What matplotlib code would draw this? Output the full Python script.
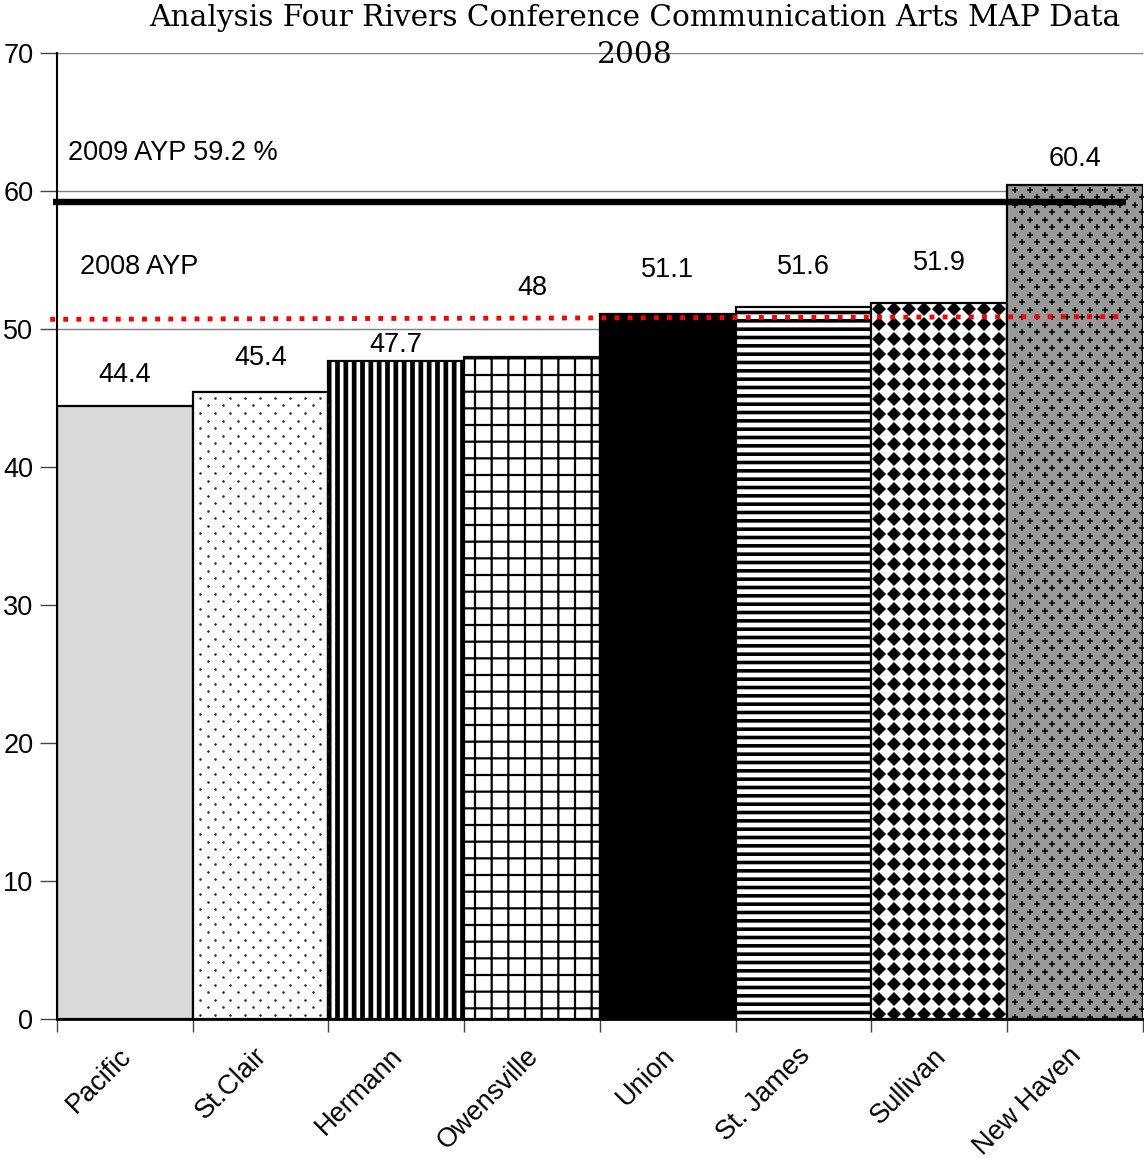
import numpy as np
import matplotlib
matplotlib.use('Agg')
import matplotlib.pyplot as plt

schools = ['Pacific', 'St.Clair', 'Hermann', 'Owensville', 'Union', 'St. James', 'Sullivan', 'New Haven']
scores = [44.4, 45.4, 47.7, 48.0, 51.1, 51.6, 51.9, 60.4]
score_text = ['44.4', '45.4', '47.7', '48', '51.1', '51.6', '51.9', '60.4']
label_lift = [2.3, 2.5, 1.15, 5.0, 3.2, 2.9, 2.9, 1.9]

ayp_2009 = 59.2
ayp_2008 = (50.7, 50.9)

# fill, hatch, hatch line width per bar
styles = [
    ('#d9d9d9', None, 1.0),
    ('white', None, 1.0),
    ('white', '||', 3.4),
    ('white', '+', 1.6),
    ('black', None, 1.0),
    ('white', '--', 2.6),
    ('white', None, 1.0),
    ('#999999', None, 1.0),
]

plt.rcParams['font.family'] = ['Liberation Sans', 'DejaVu Sans']
FS = 19.5

fig = plt.figure(figsize=(11.44, 11.59), dpi=100)
ax = fig.add_axes([0.0498, 0.1208, 0.9492, 0.8335])

x = np.arange(len(schools))
bars = []
for xi, val, (fc, hatch, hlw) in zip(x, scores, styles):
    with plt.rc_context({'hatch.linewidth': hlw}):
        b = ax.bar(xi, val, width=1.0, color=fc, edgecolor='black',
                   linewidth=1.6, hatch=hatch, zorder=2)[0]
    if hasattr(b, 'set_hatch_linewidth'):
        b.set_hatch_linewidth(hlw)
    bars.append(b)

dx = 0.1106  # about 15 px across a bar


def staggered(bar, row_step, first):
    x0, w, top = bar.get_x(), bar.get_width(), bar.get_height()
    px, py = [], []
    for i, ry in enumerate(np.arange(top - first, 0, -row_step)):
        off = 0.0 if i % 2 == 0 else dx / 2
        xs = np.arange(x0 + dx / 2 + off, x0 + w, dx)
        px.extend(xs)
        py.extend([ry] * len(xs))
    return px, py


# fine dots for St.Clair
px, py = staggered(bars[1], 0.545, 0.4)
pts, = ax.plot(px, py, 'o', color='#222222', markersize=1.8,
               markeredgewidth=0, zorder=2.5)
pts.set_clip_path(bars[1])

# diamond texture for Sullivan
b = bars[6]
x0, w, top = b.get_x(), b.get_width(), b.get_height()
gx = np.arange(x0 + dx / 2, x0 + w, dx)
gy = np.arange(top - 0.45, 0, -1.087)
GX, GY = np.meshgrid(gx, gy)
pts, = ax.plot(GX.ravel(), GY.ravel(), 'D', color='black', markersize=7.0,
               markeredgewidth=0, zorder=2.5)
pts.set_clip_path(b)

# small crosses on a staggered grid for New Haven
px, py = staggered(bars[7], 0.545, 0.3)
pts, = ax.plot(px, py, '+', color='black', markersize=4.2,
               markeredgewidth=1.1, zorder=2.5)
pts.set_clip_path(bars[7])

for xi, val, txt, lift in zip(x, scores, score_text, label_lift):
    ax.text(xi, val + lift, txt, ha='center', va='center', fontsize=FS, zorder=4)

# AYP reference lines
ax.plot([-0.53, 7.376], [ayp_2009, ayp_2009], color='black', lw=4.6,
        solid_capstyle='butt', zorder=3, clip_on=False)
ax.plot([-0.55, 7.376], list(ayp_2008), color='#ff0000', lw=3.5,
        linestyle=(0, (1, 1.7)), dash_capstyle='butt', zorder=3, clip_on=False)
ax.text(-0.419, 62.75, '2009 AYP 59.2 %', ha='left', va='center', fontsize=FS)
ax.text(-0.33, 54.49, '2008 AYP', ha='left', va='center', fontsize=FS)

ax.set_xlim(-0.5, 7.5)
ax.set_ylim(0, 70)
ax.set_yticks(np.arange(0, 71, 10))
ax.yaxis.grid(True, color='#808080', lw=1.0, zorder=0)
ax.set_axisbelow(True)

ax.set_xticks(np.arange(-0.5, 8, 1.0))
ax.set_xticklabels([])
ax.tick_params(axis='x', direction='out', length=9, width=1, color='#444444')
ax.tick_params(axis='y', direction='out', length=12, width=1, color='#444444',
               labelsize=FS, pad=5)
for xi, name in zip(x, schools):
    ax.text(xi + 0.02, -2.4, name, rotation=45, ha='right', va='center',
            rotation_mode='anchor', fontsize=FS)

for side in ('top', 'right'):
    ax.spines[side].set_visible(False)
ax.spines['left'].set_linewidth(1.5)
ax.spines['bottom'].set_linewidth(2.0)

fig.text(0.555, 0.9845, 'Analysis Four Rivers Conference Communication Arts MAP Data',
         ha='center', va='center', fontsize=21.3, family='DejaVu Serif')
fig.text(0.555, 0.9525, '2008', ha='center', va='center', fontsize=21.3,
         family='DejaVu Serif', zorder=5)

fig.savefig('out.png', dpi=100)
